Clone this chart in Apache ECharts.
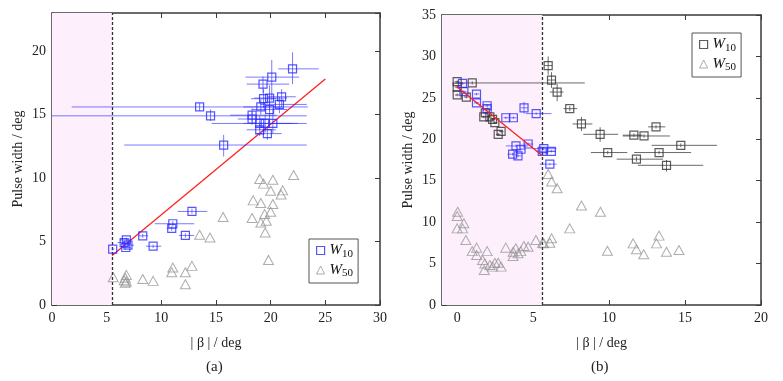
<!DOCTYPE html>
<html><head><meta charset="utf-8">
<script src="https://cdn.jsdelivr.net/npm/echarts@6/dist/echarts.min.js"></script>
<style>html,body{margin:0;padding:0;background:#fff}#c{width:783px;height:381px}</style>
</head><body><div id="c"></div>
<script>
// ---- Panel (a) data: [x, y, xLow, xHigh, yLow, yHigh] ----
const leftW10 = [
 [22.0,18.6,20.7,24.4,17.4,19.9],
 [20.1,17.95,17.7,22.6,16.1,19.3],
 [19.3,17.4,17.8,21.7,16.7,18.0],
 [21.0,16.4,19.7,22.3,15.6,17.0],
 [19.9,16.3,18.5,21.5,15.3,17.3],
 [19.35,16.25,18.2,20.5,15.5,17.0],
 [20.8,15.8,19.05,23.3,15.1,16.4],
 [13.5,15.6,1.8,23.4,15.3,15.9],
 [19.1,15.6,17.5,21.0,15.0,16.2],
 [19.9,15.4,18.3,21.5,14.3,16.5],
 [14.5,14.9,-1,23.3,14.5,15.4],
 [18.3,14.95,16.3,20.5,14.4,15.5],
 [18.3,14.65,17.0,19.8,14.2,15.2],
 [19.0,14.3,14.6,23.3,13.8,14.9],
 [19.5,14.3,17.5,22.5,13.6,15.0],
 [20.2,14.3,18.5,22.0,13.5,15.5],
 [19.0,13.8,17.8,20.5,13.3,14.4],
 [19.7,13.5,18.6,21.0,13.0,14.0],
 [15.7,12.6,6.6,23.3,11.7,13.4],
 [12.8,7.37,11.5,14.2,7.2,7.6],
 [11.05,6.4,9.4,13.0,6.2,6.6],
 [10.95,6.03,10.5,11.4,5.85,6.2],
 [12.2,5.48,11.6,13.0,5.3,5.65],
 [8.3,5.45,7.9,8.8,5.3,5.6],
 [6.8,5.13,6.2,7.3,5.0,5.3],
 [6.6,4.92,6.0,7.2,4.8,5.05],
 [6.95,4.71,6.5,7.5,4.6,4.85],
 [6.75,4.53,6.3,7.2,4.4,4.65],
 [9.25,4.63,8.6,10.0,4.5,4.75],
 [5.55,4.4,5.45,5.7,4.3,4.5]
];
const leftW50 = [
 [5.6,2.19],[6.8,2.37],[6.7,2.15],[6.6,1.95],[6.8,1.85],[6.7,1.75],[8.3,2.05],[9.25,1.9],
 [11.05,2.95],[10.95,2.58],[12.8,3.08],[12.2,2.58],[12.2,1.63],[13.5,5.53],[14.45,5.32],
 [15.65,6.93],[19.0,9.93],[19.35,9.56],[20.2,9.87],[22.1,10.24],[20.0,9.0],[21.1,9.03],
 [20.95,8.71],[18.4,8.24],[19.1,8.03],[20.2,7.95],[19.45,7.16],[20.0,7.35],[18.3,6.85],
 [19.1,6.5],[19.6,6.64],[19.5,5.71],[19.8,3.55]
];
const leftFit = [[5.5,3.9],[25.0,17.8]];
const leftCut = 5.5;

// ---- Panel (b) data ----
const rightW10 = [
 [5.99,28.9,5.75,6.25,27.8,30.0],
 [6.21,27.15,5.95,6.5,26.2,28.1],
 [0.99,26.8,-0.05,8.4,26.6,27.0],
 [0.0,26.95,-0.15,0.15,26.8,27.1],
 [0.0,26.3,-0.15,0.15,26.15,26.45],
 [0.0,25.35,-0.15,0.15,25.2,25.5],
 [6.58,25.7,6.1,7.0,24.6,26.7],
 [0.6,25.1,0.45,0.75,24.95,25.25],
 [1.75,22.7,1.6,1.9,22.55,22.85],
 [1.85,23.2,1.7,2.0,23.05,23.35],
 [2.15,22.7,2.0,2.3,22.55,22.85],
 [2.33,22.4,2.2,2.5,22.25,22.55],
 [2.48,22.0,2.35,2.65,21.85,22.15],
 [2.7,20.6,2.55,2.85,20.45,20.75],
 [2.89,20.95,2.75,3.05,20.8,21.1],
 [7.41,23.7,7.0,7.9,23.4,24.0],
 [8.18,21.85,7.6,8.9,21.0,22.7],
 [9.41,20.6,8.3,10.6,19.7,21.45],
 [9.91,18.4,8.8,11.2,18.2,18.6],
 [13.09,21.5,12.57,13.7,21.3,21.7],
 [11.63,20.5,10.9,12.2,20.3,20.7],
 [12.3,20.4,10.9,14.0,20.2,20.6],
 [14.72,19.27,12.8,17.1,19.05,19.5],
 [13.29,18.4,11.65,15.4,18.2,18.6],
 [11.8,17.6,10.5,13.55,17.3,17.9],
 [13.78,16.86,11.9,16.2,16.1,17.5]
];
const rightW10blue = [
 [0.35,26.75,0.2,0.5,26.6,26.9],
 [0.44,25.75,0.3,0.6,25.6,25.9],
 [1.27,25.46,1.1,1.45,25.3,25.6],
 [1.27,24.4,1.1,1.45,24.25,24.55],
 [1.97,24.05,1.8,2.15,23.9,24.2],
 [1.97,23.7,1.8,2.15,23.55,23.85],
 [4.4,23.8,4.2,4.65,23.1,24.5],
 [3.2,22.6,3.05,3.4,22.45,22.75],
 [3.7,22.6,3.5,3.9,22.45,22.75],
 [5.2,23.1,4.52,6.21,22.95,23.25],
 [4.67,19.43,4.4,5.0,19.25,19.6],
 [3.87,19.2,3.2,4.67,19.05,19.35],
 [4.2,18.8,3.9,4.5,18.65,18.95],
 [3.65,18.2,3.3,4.0,18.05,18.35],
 [4.0,18.0,3.8,4.2,17.85,18.15],
 [5.7,18.87,5.0,6.54,18.7,19.0],
 [5.6,18.55,5.2,6.5,18.4,18.7],
 [6.2,18.55,6.0,6.5,18.4,18.7],
 [6.1,17.0,5.44,6.54,16.85,17.15]
];
const rightW50 = [
 [0.03,11.26],[0,10.74],[0.44,9.86],[0,9.25],[0.36,9.25],[0.57,7.84],[0.99,6.5],[1.28,6.92],
 [1.28,6.03],[1.67,5.43],[1.97,6.5],[1.82,5.02],[1.78,4.22],[2.15,4.83],[2.33,4.63],[2.48,5.1],
 [2.7,5.1],[2.89,4.63],[3.2,6.92],[3.68,5.91],[3.68,6.43],[3.86,6.84],[4.01,6.24],[4.19,6.5],
 [4.39,7.12],[4.67,7.04],[5.18,7.84],[5.62,7.52],[5.7,7.45],[6.1,7.52],[6.21,8.05],[5.99,15.8],
 [6.21,14.9],[6.58,14.1],[7.41,9.25],[8.18,12.0],[9.43,11.26],[9.89,6.55],[11.58,7.44],
 [11.8,6.72],[12.28,6.12],[13.29,8.37],[13.12,7.44],[13.78,6.43],[14.6,6.64]
];
const rightFit = [[0,26.3],[5.55,18.1]];
const rightCut = 5.6;

// axis ranges / titles
const xRangeA = [0, 30], yRangeA = [0, 23];
const xRangeB = [-1, 20], yRangeB = [0, 35];
const xTitle = '| β | / deg', yTitle = 'Pulse width / deg';
const panelLabels = ['(a)', '(b)'];

const FONT = 'Liberation Serif';
const AX = '#3a3a3a';
const PINK = '#fdf0fc';

function errRender(color) {
  return function (params, api) {
    const x = api.value(0), y = api.value(1);
    const l = api.coord([api.value(2), y]), r = api.coord([api.value(3), y]);
    const b = api.coord([x, api.value(4)]), t = api.coord([x, api.value(5)]);
    return { type: 'group', children: [
      { type: 'line', shape: { x1: l[0], y1: l[1], x2: r[0], y2: r[1] }, style: { stroke: color, lineWidth: 1 } },
      { type: 'line', shape: { x1: b[0], y1: b[1], x2: t[0], y2: t[1] }, style: { stroke: color, lineWidth: 1 } }
    ]};
  };
}

function baseAxis(extra) {
  return Object.assign({
    type: 'value',
    axisLine: { show: true, onZero: false, lineStyle: { color: AX, width: 1.5 } },
    axisTick: { show: true, inside: true, length: 5, lineStyle: { color: AX, width: 1 } },
    splitLine: { show: false },
    axisLabel: { fontFamily: FONT, fontSize: 14, color: '#222', margin: 6 },
    nameTextStyle: { fontFamily: FONT, fontSize: 14, color: '#222' }
  }, extra);
}

const grids = [
  { left: 52, top: 13, width: 328, height: 292 },
  { left: 442, top: 15, width: 319, height: 290 }
];

const xAxes = [
  baseAxis({ gridIndex: 0, position: 'bottom', min: xRangeA[0], max: xRangeA[1], interval: 5,
    name: xTitle, nameLocation: 'middle', nameGap: 31 }),
  baseAxis({ gridIndex: 0, position: 'top', min: xRangeA[0], max: xRangeA[1], interval: 5, axisLabel: { show: false } }),
  baseAxis({ gridIndex: 1, position: 'bottom', min: xRangeB[0], max: xRangeB[1], splitNumber: 5,
    name: xTitle, nameLocation: 'middle', nameGap: 31,
    axisLabel: { fontFamily: FONT, fontSize: 14, color: '#222', margin: 6, showMinLabel: false } }),
  baseAxis({ gridIndex: 1, position: 'top', min: xRangeB[0], max: xRangeB[1], splitNumber: 5, axisLabel: { show: false } })
];
const yAxes = [
  baseAxis({ gridIndex: 0, position: 'left', min: yRangeA[0], max: yRangeA[1], interval: 5,
    name: yTitle, nameLocation: 'middle', nameGap: 27,
    axisLabel: { fontFamily: FONT, fontSize: 14, color: '#222', margin: 6, showMaxLabel: false } }),
  baseAxis({ gridIndex: 0, position: 'right', min: yRangeA[0], max: yRangeA[1], interval: 5, axisLabel: { show: false } }),
  baseAxis({ gridIndex: 1, position: 'left', min: yRangeB[0], max: yRangeB[1], interval: 5,
    name: yTitle, nameLocation: 'middle', nameGap: 27 }),
  baseAxis({ gridIndex: 1, position: 'right', min: yRangeB[0], max: yRangeB[1], interval: 5, axisLabel: { show: false } })
];

function shade(xa, ya, x0, cut) {
  return {
    type: 'line', xAxisIndex: xa, yAxisIndex: ya, data: [], silent: true, z: 0,
    markArea: { silent: true, itemStyle: { color: PINK }, data: [[{ xAxis: x0 }, { xAxis: cut }]] },
    markLine: { silent: true, symbol: 'none', label: { show: false },
      lineStyle: { color: '#333', type: [3, 2], width: 1.3 }, data: [{ xAxis: cut }] }
  };
}

const richLegend = {
  w: { fontFamily: FONT, fontStyle: 'italic', fontSize: 15, color: '#111' },
  s: { fontFamily: FONT, fontSize: 11, color: '#111', padding: [7, 0, 0, 0] }
};
function legendFmt(name) { return name.indexOf('10') >= 0 ? '{w|W}{s|10}' : '{w|W}{s|50}'; }

const option = {
  animation: false,
  backgroundColor: '#fff',
  grid: grids,
  xAxis: xAxes,
  yAxis: yAxes,
  legend: [
    { left: 309, top: 239, orient: 'vertical', itemWidth: 8, itemHeight: 8, itemGap: 3,
      padding: [4, 5, 4, 7], borderColor: '#555', borderWidth: 1, backgroundColor: '#fff',
      formatter: legendFmt, textStyle: { rich: richLegend },
      data: [
        { name: 'a W10', icon: 'rect', itemStyle: { color: '#fff', borderColor: '#2a2aff', borderWidth: 1.2 } },
        { name: 'a W50', icon: 'triangle', itemStyle: { color: '#fff', borderColor: '#999', borderWidth: 1 } }
      ] },
    { left: 692, top: 33, orient: 'vertical', itemWidth: 8, itemHeight: 8, itemGap: 3,
      padding: [4, 5, 4, 7], borderColor: '#555', borderWidth: 1, backgroundColor: '#fff',
      formatter: legendFmt, textStyle: { rich: richLegend },
      data: [
        { name: 'b W10', icon: 'rect', itemStyle: { color: '#fff', borderColor: '#333', borderWidth: 1.2 } },
        { name: 'b W50', icon: 'triangle', itemStyle: { color: '#fff', borderColor: '#999', borderWidth: 1 } }
      ] }
  ],
  graphic: [
    { type: 'text', left: 206, top: 360, style: { text: panelLabels[0], font: '15px "Liberation Serif"', fill: '#222' } },
    { type: 'text', left: 591, top: 360, style: { text: panelLabels[1], font: '15px "Liberation Serif"', fill: '#222' } }
  ],
  series: [
    shade(0, 0, xRangeA[0], leftCut),
    shade(2, 2, xRangeB[0], rightCut),
    // panel a
    { type: 'line', xAxisIndex: 0, yAxisIndex: 0, data: leftFit, symbol: 'none', z: 3,
      lineStyle: { color: '#ff2020', width: 1.3 } },
    { type: 'scatter', name: 'a W50', xAxisIndex: 0, yAxisIndex: 0, data: leftW50, symbol: 'triangle',
      symbolSize: [10, 9], z: 4, itemStyle: { color: 'rgba(255,255,255,0)', borderColor: '#999', borderWidth: 1 } },
    { type: 'custom', xAxisIndex: 0, yAxisIndex: 0, data: leftW10, renderItem: errRender('rgba(50,50,255,0.65)'),
      encode: { x: 0, y: 1 }, clip: true, z: 5, silent: true },
    { type: 'scatter', name: 'a W10', xAxisIndex: 0, yAxisIndex: 0, data: leftW10.map(r => [r[0], r[1]]),
      symbol: 'rect', symbolSize: 8, z: 6,
      itemStyle: { color: 'rgba(255,255,255,0)', borderColor: '#2a2aff', borderWidth: 1.2 } },
    // panel b
    { type: 'line', xAxisIndex: 2, yAxisIndex: 2, data: rightFit, symbol: 'none', z: 7,
      lineStyle: { color: '#ff2020', width: 1.3 } },
    { type: 'scatter', name: 'b W50', xAxisIndex: 2, yAxisIndex: 2, data: rightW50, symbol: 'triangle',
      symbolSize: [10, 9], z: 4, itemStyle: { color: 'rgba(255,255,255,0)', borderColor: '#999', borderWidth: 1 } },
    { type: 'custom', xAxisIndex: 2, yAxisIndex: 2, data: rightW10, renderItem: errRender('rgba(70,70,70,0.8)'),
      encode: { x: 0, y: 1 }, clip: true, z: 5, silent: true },
    { type: 'scatter', name: 'b W10', xAxisIndex: 2, yAxisIndex: 2, data: rightW10.map(r => [r[0], r[1]]),
      symbol: 'rect', symbolSize: 8, z: 6,
      itemStyle: { color: 'rgba(255,255,255,0)', borderColor: '#333', borderWidth: 1.2 } },
    { type: 'custom', xAxisIndex: 2, yAxisIndex: 2, data: rightW10blue, renderItem: errRender('rgba(50,50,255,0.65)'),
      encode: { x: 0, y: 1 }, clip: true, z: 5, silent: true },
    { type: 'scatter', name: 'b W10 blue', xAxisIndex: 2, yAxisIndex: 2, data: rightW10blue.map(r => [r[0], r[1]]),
      symbol: 'rect', symbolSize: 8, z: 6,
      itemStyle: { color: 'rgba(255,255,255,0)', borderColor: '#2a2aff', borderWidth: 1.2 } }
  ]
};

const chart = echarts.init(document.getElementById('c'), null, { renderer: 'canvas' });
chart.setOption(option);
</script>
</body></html>
